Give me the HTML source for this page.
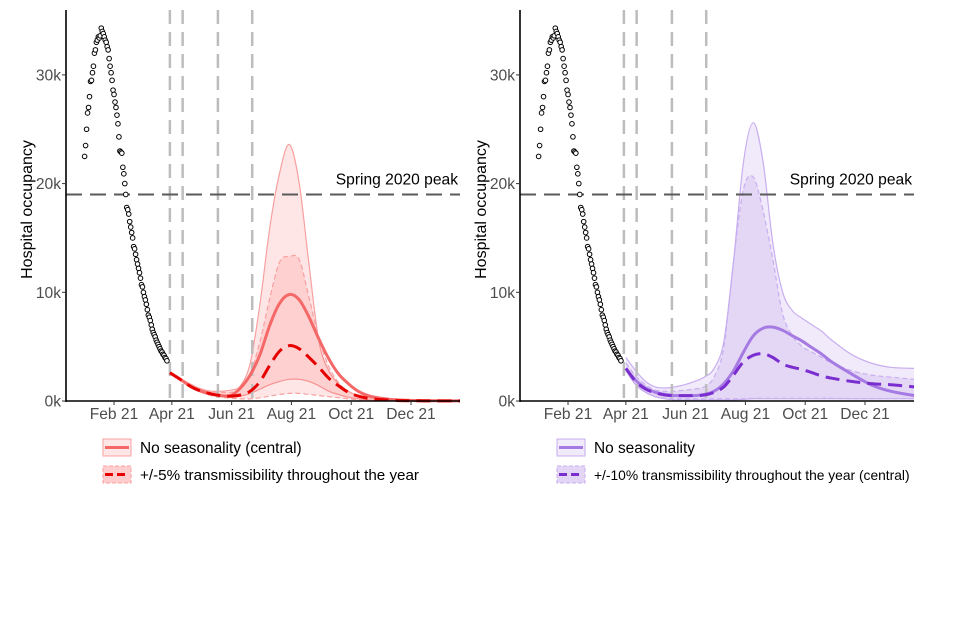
<!DOCTYPE html>
<html><head><meta charset="utf-8"><style>
body{margin:0;background:#fff;}
svg{display:block;font-family:"Liberation Sans",Arial,sans-serif;}
</style></head><body>
<svg id="chart" width="960" height="640" viewBox="0 0 960 640"></svg>
<script>
// ---- data (values in thousands, days since 1 Jan 2021) ----
const obsValues = [22.5,23.5,25,26.5,27,28,29.4,29.5,30.2,30.8,32,32.3,33,33.2,33.5,33.4,33.6,34.3,34,33.8,33.5,33.2,33,32.6,32.3,31.5,30.8,30.2,29.5,28.6,28.2,27.5,27,26.3,25.5,24.3,23,22.9,22.8,21.5,20.9,20,19,17.8,17.6,17.2,16.5,16,15.5,15,14.2,14,13.5,13,12.6,12.2,11.8,11.3,10.7,10.5,10,9.6,9.3,8.9,8.4,7.9,7.7,7.4,7,6.6,6.3,6.1,5.9,5.6,5.4,5.2,5.0,4.8,4.6,4.5,4.3,4.2,4.0,3.9,3.7];
const obsStartDay = 1;
const vLineDays = [88,101,137,172];
const peakValue = 19.0;
const yTicks = [0,10,20,30];
const yTickLabels = ["0k","10k","20k","30k"];
const xTickDays = [31,90,151,212,273,334];
const xTickLabels = ["Feb 21","Apr 21","Jun 21","Aug 21","Oct 21","Dec 21"];

const leftDays = [88,100,110,120,130,140,150,160,170,180,190,200,210,220,230,240,250,260,270,280,290,300,320,340,360,384];
const leftSolid = [2.6,1.9,1.3,0.9,0.65,0.5,0.5,1.2,2.4,4.3,7.0,9.0,9.8,9.3,7.7,5.7,3.9,2.5,1.6,0.9,0.5,0.3,0.1,0.05,0.02,0.01];
const leftDashed = [2.6,1.9,1.3,0.9,0.65,0.5,0.45,0.55,0.9,1.8,3.3,4.6,5.1,4.8,4.0,3.1,2.1,1.4,0.8,0.45,0.25,0.15,0.05,0.02,0.01,0.01];
const leftNsUpper = [2.7,2.0,1.5,1.1,0.9,0.9,1.0,1.4,3.5,9,16,21,23.6,20,12.5,5.5,2.8,1.6,0.9,0.5,0.3,0.2,0.08,0.03,0.01,0.01];
const leftNsLower = [2.5,1.8,1.2,0.8,0.55,0.4,0.35,0.45,0.7,1.1,1.5,1.8,2.0,2.0,1.8,1.4,0.9,0.6,0.35,0.2,0.1,0.05,0.02,0.01,0,0];
const leftSUpper = [2.7,2.0,1.5,1.1,0.85,0.8,0.8,1.1,2.5,5.5,9.5,12.8,13.3,13.0,9.5,5.8,3.2,1.7,0.9,0.5,0.3,0.2,0.08,0.03,0.01,0.01];
const leftSLower = [2.5,1.8,1.2,0.8,0.5,0.35,0.25,0.2,0.2,0.3,0.45,0.6,0.7,0.7,0.6,0.5,0.4,0.3,0.2,0.12,0.06,0.03,0.01,0,0,0];

const rightDays = [90,100,110,120,130,140,150,160,170,180,190,200,210,220,230,240,250,260,270,280,290,300,320,340,360,384];
const rightSolid = [3.0,1.9,1.2,0.8,0.6,0.5,0.5,0.5,0.6,0.9,1.6,2.8,4.5,6.0,6.7,6.8,6.5,6.0,5.5,4.9,4.3,3.6,2.5,1.5,0.9,0.5];
const rightDashed = [3.0,1.8,1.1,0.75,0.55,0.5,0.5,0.5,0.55,0.8,1.3,2.4,3.6,4.2,4.35,4.0,3.4,3.1,2.9,2.6,2.3,2.1,1.8,1.6,1.5,1.3];
const rightNsUpper = [4.0,2.8,1.8,1.3,1.2,1.3,1.5,1.8,2.2,3.0,5.5,13,22,25.6,22,14.5,10,8.3,7.6,7.0,6.4,5.6,4.3,3.5,3.1,3.0];
const rightNsLower = [2.8,1.5,0.8,0.4,0.2,0.1,0.1,0.1,0.1,0.1,0.1,0.1,0.15,0.2,0.2,0.2,0.2,0.2,0.2,0.2,0.2,0.2,0.2,0.2,0.2,0.2];
const rightSUpper = [3.5,2.3,1.5,1.0,0.9,0.9,1.0,1.1,1.3,2.2,5,13,19.5,20.6,17.5,13,8,6,5,4.5,4.0,3.5,2.8,2.4,2.2,2.0];
const rightSLower = [2.8,1.5,0.8,0.4,0.25,0.2,0.2,0.2,0.2,0.2,0.2,0.2,0.2,0.25,0.25,0.25,0.25,0.25,0.25,0.25,0.25,0.25,0.2,0.2,0.2,0.2];

// ---- drawing ----
const NS="http://www.w3.org/2000/svg";
const svg=document.getElementById('chart');
const dayMin=-18, dayMax=384, yTop=10, yBot=401, kPx=10.87;
function mk(tag,attrs,parent){const e=document.createElementNS(NS,tag);for(const k in attrs)e.setAttribute(k,attrs[k]);(parent||svg).appendChild(e);return e;}
function yScale(v){return yBot - v*kPx;}
function smooth(pts){
  let d="M"+pts[0][0].toFixed(1)+","+pts[0][1].toFixed(1);
  for(let i=0;i<pts.length-1;i++){
    const p0=pts[Math.max(0,i-1)],p1=pts[i],p2=pts[i+1],p3=pts[Math.min(pts.length-1,i+2)];
    const c1x=p1[0]+(p2[0]-p0[0])/6,c1y=Math.min(yBot,p1[1]+(p2[1]-p0[1])/6);
    const c2x=p2[0]-(p3[0]-p1[0])/6,c2y=Math.min(yBot,p2[1]-(p3[1]-p1[1])/6);
    d+=" C"+c1x.toFixed(1)+","+c1y.toFixed(1)+" "+c2x.toFixed(1)+","+c2y.toFixed(1)+" "+p2[0].toFixed(1)+","+p2[1].toFixed(1);
  }
  return d;
}
function smoothCont(pts){return smooth(pts).replace(/^M/,"L");}

function panel(p){
  const x0=p.x0,x1=p.x0+394;
  const xs=d=>x0+(d-dayMin)*(394/(dayMax-dayMin));
  const g=mk('g',{});
  
  
  const pts=(days,vals)=>days.map((d,i)=>[xs(d),yScale(vals[i])]);
  function band(up,lo,fill,stroke,dash,name){
    const u=pts(p.days,up), l=pts(p.days,lo).reverse();
    const e=mk('path',{d:smooth(u)+" "+smoothCont(l)+" Z",fill:fill,'fill-opacity':p.bandOp,stroke:'none'},g);
    
    
    [u,l].forEach(arr=>{const s=mk('path',{d:smooth(arr),fill:'none',stroke:stroke,'stroke-width':1.2,'stroke-dasharray':dash},g);
      
      });
  }
  band(p.nsUp,p.nsLo,p.fill,p.edge,'none','no-seasonality');
  band(p.sUp,p.sLo,p.fill,p.edge,'5 3','seasonality');
  vLineDays.forEach(d=>{const e=mk('line',{x1:xs(d),x2:xs(d),y1:yTop,y2:yBot,stroke:'#bdbdbd','stroke-width':2.5,'stroke-dasharray':'14 8'},g);
    
    });
  const pk=mk('line',{x1:x0,x2:x1,y1:yScale(peakValue),y2:yScale(peakValue),stroke:'#5a5a5a','stroke-width':2,'stroke-dasharray':'16 8'},g);
  
  
  const pt=mk('text',{x:x1-2,y:yScale(peakValue)-10,'text-anchor':'end','font-size':15.6,fill:'#000'},g);pt.textContent='Spring 2020 peak';
  
  
  const sl=mk('path',{d:smooth(pts(p.days,p.solid)),fill:'none',stroke:p.solidCol,'stroke-width':3},g);
  
  
  const dl=mk('path',{d:smooth(pts(p.days,p.dashed)),fill:'none',stroke:p.dashCol,'stroke-width':3,'stroke-dasharray':'14 7'},g);
  
  
  obsValues.forEach((v,i)=>{const c=mk('circle',{cx:xs(obsStartDay+i),cy:yScale(v),r:2.3,fill:'#fff',stroke:'#000','stroke-width':1},g);
    
    });
  const ya=mk('line',{x1:x0,x2:x0,y1:yTop,y2:yBot+1,stroke:'#000','stroke-width':1.6},g);
  
  
  const xa=mk('line',{x1:x0-1,x2:x1,y1:yBot,y2:yBot,stroke:'#000','stroke-width':1.6},g);
  
  
  yTicks.forEach((t,i)=>{const y=yScale(t*1);
    mk('line',{x1:x0-4,x2:x0,y1:y,y2:y,stroke:'#333','stroke-width':1},g);
    const tx=mk('text',{x:x0-5,y:y+5.5,'text-anchor':'end','font-size':15.6,fill:'#4d4d4d'},g);tx.textContent=yTickLabels[i];
    
    });
  xTickDays.forEach((d,i)=>{const x=xs(d);
    mk('line',{x1:x,x2:x,y1:yBot,y2:yBot+4,stroke:'#333','stroke-width':1},g);
    const tx=mk('text',{x:x,y:yBot+18,'text-anchor':'middle','font-size':15.6,fill:'#4d4d4d'},g);tx.textContent=xTickLabels[i];
    
    });
  const yt=mk('text',{x:0,y:0,transform:`translate(${x0-34},${(yTop+yBot)/2+4}) rotate(-90)`,'text-anchor':'middle','font-size':16,fill:'#000'},g);
  yt.textContent='Hospital occupancy';
  
  
  const lx=p.x0+37;
  p.legend.forEach((txt,i)=>{const y=439+i*27;
    const lg=mk('g',{},g);
    
    
    mk('rect',{x:lx,y:y,width:28,height:17,fill:p.fill,'fill-opacity':i?p.bandOp*2:p.bandOp,stroke:p.edge,'stroke-width':1,'stroke-dasharray':i?'4 2':'none'},lg);
    mk('line',{x1:lx+2,x2:lx+26,y1:y+8.5,y2:y+8.5,stroke:i?p.dashCol:p.solidCol,'stroke-width':3,'stroke-dasharray':i?'8 4':'none'},lg);
    const t=mk('text',{x:lx+37,y:y+14,'font-size':p.legendSize[i],fill:'#000'},lg);t.textContent=txt;
  });
}
panel({name:'left-panel',x0:66,days:leftDays,solid:leftSolid,dashed:leftDashed,nsUp:leftNsUpper,nsLo:leftNsLower,sUp:leftSUpper,sLo:leftSLower,
  fill:'#ff3030',bandOp:0.12,edge:'#f8a0a0',solidCol:'#f46868',dashCol:'#e60000',legendSize:[15.4,15.2],
  legend:['No seasonality (central)','+/-5% transmissibility throughout the year']});
panel({name:'right-panel',x0:520,days:rightDays,solid:rightSolid,dashed:rightDashed,nsUp:rightNsUpper,nsLo:rightNsLower,sUp:rightSUpper,sLo:rightSLower,
  fill:'#8a4fd8',bandOp:0.12,edge:'#c8aef0',solidCol:'#a57ae2',dashCol:'#7a2ecf',legendSize:[15.4,13.8],
  legend:['No seasonality','+/-10% transmissibility throughout the year (central)']});
</script>
</body></html>
